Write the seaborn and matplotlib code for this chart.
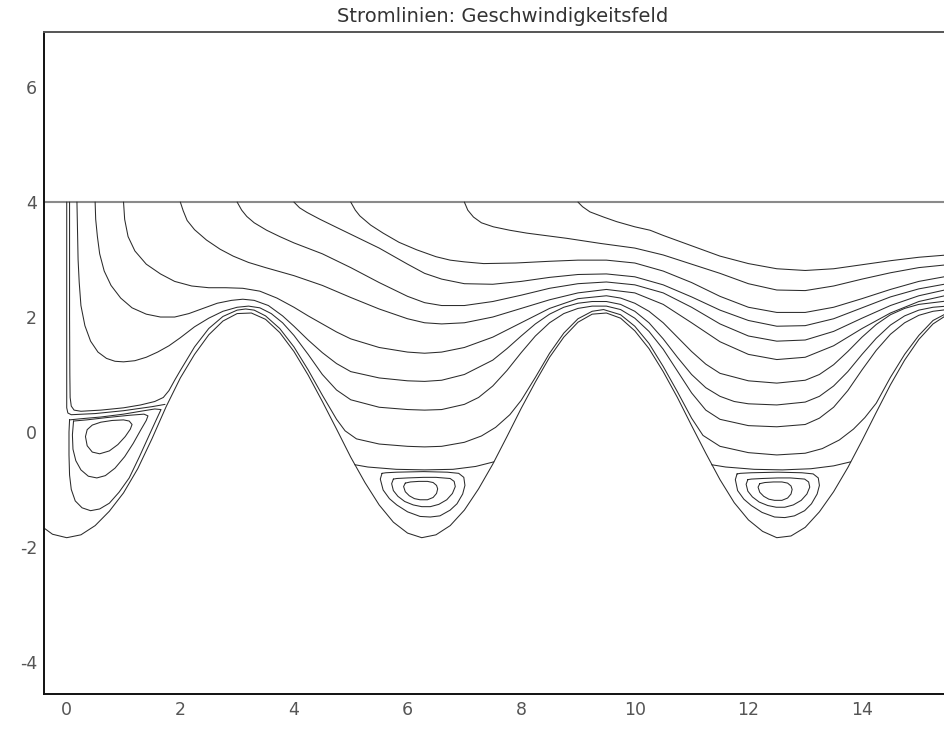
import numpy as np
import pandas as pd
import matplotlib
matplotlib.use("Agg")
import matplotlib.pyplot as plt
import seaborn as sns

# ---- channel geometry -------------------------------------------------
wall_top = 4.0
bottom_x = np.arange(-0.5, 15.76, 0.25)
bottom_y = [-1.60, -1.78, -1.84, -1.79, -1.63, -1.38, -1.06, -0.64, -0.12, 0.44,
            0.94, 1.35, 1.69, 1.93, 2.06, 2.07, 1.96, 1.73, 1.40, 0.99,
            0.53, 0.05, -0.44, -0.88, -1.27, -1.57, -1.76, -1.84, -1.79, -1.63,
            -1.36, -0.99, -0.56, -0.08, 0.41, 0.87, 1.30, 1.65, 1.91, 2.05,
            2.07, 1.98, 1.76, 1.45, 1.05, 0.60, 0.11, -0.37, -0.83, -1.23,
            -1.53, -1.73, -1.84, -1.81, -1.66, -1.39, -1.04, -0.62, -0.15, 0.34,
            0.82, 1.25, 1.61, 1.88, 2.04, 2.08]

# ---- streamlines (x, y) -----------------------------------------------
psi_zero = [(0.0, 4.0), (0.0, 0.42), (0.02, 0.33), (0.08, 0.30), (0.5, 0.32),
            (1.0, 0.37), (1.5, 0.44), (1.73, 0.48)]

line_01 = [(0.05, 4.0), (0.05, 2.0), (0.055, 1.0), (0.06, 0.6), (0.08, 0.45), (0.13, 0.38),
           (0.25, 0.36), (0.6, 0.38), (1.0, 0.42), (1.3, 0.47), (1.55, 0.53), (1.7, 0.6),
           (1.8, 0.72), (1.9, 0.9), (2.0, 1.07), (2.25, 1.48), (2.5, 1.8), (2.75, 2.01),
           (3.0, 2.12), (3.15, 2.14), (3.3, 2.12), (3.5, 2.02), (3.75, 1.8), (4.0, 1.48),
           (4.25, 1.08), (4.5, 0.64), (4.75, 0.22), (4.9, 0.02), (5.1, -0.12), (5.5, -0.21),
           (6.0, -0.25), (6.3, -0.26), (6.6, -0.25), (7.0, -0.18), (7.3, -0.07), (7.55, 0.08),
           (7.8, 0.3), (8.0, 0.55), (8.25, 0.95), (8.5, 1.37), (8.75, 1.72), (9.0, 1.97),
           (9.25, 2.1), (9.45, 2.13), (9.75, 2.04), (10.0, 1.84), (10.25, 1.54), (10.5, 1.14),
           (10.75, 0.7), (11.0, 0.24), (11.2, -0.06), (11.5, -0.25), (12.0, -0.36), (12.5, -0.40),
           (13.0, -0.37), (13.3, -0.29), (13.6, -0.14), (13.85, 0.05), (14.05, 0.25), (14.25, 0.5),
           (14.5, 0.95), (14.75, 1.35), (15.0, 1.68), (15.25, 1.94), (15.5, 2.07), (15.75, 2.11)]

line_02 = [(0.18, 4.0), (0.19, 3.5), (0.2, 3.0), (0.22, 2.6), (0.25, 2.2), (0.32, 1.85),
           (0.42, 1.58), (0.55, 1.39), (0.7, 1.28), (0.85, 1.23), (1.0, 1.22), (1.2, 1.24),
           (1.4, 1.3), (1.6, 1.39), (1.8, 1.5), (2.0, 1.64), (2.25, 1.83), (2.5, 1.98),
           (2.75, 2.1), (3.0, 2.17), (3.2, 2.19), (3.4, 2.16), (3.6, 2.06), (3.8, 1.9),
           (4.0, 1.68), (4.25, 1.35), (4.5, 1.0), (4.75, 0.73), (5.0, 0.56), (5.5, 0.43),
           (6.0, 0.39), (6.3, 0.38), (6.6, 0.39), (7.0, 0.48), (7.25, 0.6), (7.5, 0.8),
           (7.75, 1.07), (8.0, 1.38), (8.25, 1.67), (8.5, 1.9), (8.75, 2.06), (9.0, 2.15),
           (9.25, 2.19), (9.5, 2.19), (9.75, 2.13), (10.0, 1.98), (10.25, 1.75), (10.5, 1.44),
           (10.75, 1.06), (11.0, 0.68), (11.25, 0.38), (11.5, 0.22), (12.0, 0.11), (12.5, 0.09),
           (13.0, 0.13), (13.25, 0.24), (13.5, 0.43), (13.75, 0.72), (14.0, 1.08), (14.25, 1.42),
           (14.5, 1.7), (14.75, 1.9), (15.0, 2.03), (15.25, 2.1), (15.5, 2.13), (15.75, 2.14)]

line_03 = [(0.5, 4.0), (0.51, 3.7), (0.54, 3.4), (0.58, 3.1), (0.66, 2.8), (0.78, 2.55),
           (0.95, 2.33), (1.15, 2.16), (1.4, 2.05), (1.65, 2.0), (1.9, 2.0), (2.15, 2.06),
           (2.4, 2.15), (2.65, 2.24), (2.9, 2.29), (3.1, 2.31), (3.3, 2.29), (3.55, 2.2),
           (3.8, 2.02), (4.0, 1.84), (4.25, 1.6), (4.5, 1.38), (4.75, 1.19), (5.0, 1.05),
           (5.5, 0.94), (6.0, 0.89), (6.3, 0.88), (6.6, 0.9), (7.0, 1.0), (7.5, 1.25),
           (7.75, 1.45), (8.0, 1.67), (8.25, 1.88), (8.5, 2.05), (8.75, 2.17), (9.0, 2.24),
           (9.25, 2.27), (9.5, 2.27), (9.75, 2.22), (10.0, 2.1), (10.25, 1.9), (10.5, 1.62),
           (10.75, 1.3), (11.0, 1.0), (11.25, 0.77), (11.5, 0.62), (11.75, 0.53), (12.0, 0.49),
           (12.5, 0.47), (13.0, 0.52), (13.25, 0.62), (13.5, 0.8), (13.75, 1.05), (14.0, 1.35),
           (14.25, 1.63), (14.5, 1.86), (14.75, 2.02), (15.0, 2.12), (15.25, 2.17), (15.5, 2.19),
           (15.75, 2.2)]

line_04 = [(1.0, 4.0), (1.02, 3.7), (1.08, 3.4), (1.2, 3.15), (1.4, 2.92), (1.65, 2.75),
           (1.9, 2.62), (2.2, 2.54), (2.5, 2.51), (2.8, 2.51), (3.1, 2.5), (3.4, 2.45),
           (3.7, 2.33), (4.0, 2.17), (4.25, 2.02), (4.5, 1.88), (4.75, 1.74), (5.0, 1.62),
           (5.5, 1.47), (6.0, 1.39), (6.3, 1.37), (6.6, 1.39), (7.0, 1.47), (7.5, 1.65),
           (8.0, 1.9), (8.5, 2.15), (9.0, 2.32), (9.5, 2.37), (9.75, 2.33), (10.0, 2.24),
           (10.25, 2.1), (10.5, 1.9), (10.75, 1.65), (11.0, 1.4), (11.25, 1.18), (11.5, 1.02),
           (12.0, 0.89), (12.5, 0.85), (13.0, 0.9), (13.25, 1.0), (13.5, 1.17), (13.75, 1.4),
           (14.0, 1.65), (14.25, 1.87), (14.5, 2.04), (14.75, 2.15), (15.0, 2.22), (15.5, 2.28),
           (15.75, 2.29)]

line_05 = [(2.0, 4.0), (2.05, 3.85), (2.12, 3.68), (2.25, 3.52), (2.46, 3.34), (2.7, 3.18),
           (2.93, 3.06), (3.2, 2.95), (3.5, 2.86), (4.0, 2.72), (4.5, 2.55), (5.0, 2.34),
           (5.5, 2.14), (6.0, 1.97), (6.3, 1.9), (6.6, 1.88), (7.0, 1.9), (7.5, 2.0),
           (8.0, 2.15), (8.5, 2.3), (9.0, 2.42), (9.5, 2.48), (10.0, 2.42), (10.5, 2.22),
           (11.0, 1.9), (11.5, 1.57), (12.0, 1.35), (12.5, 1.26), (13.0, 1.3), (13.5, 1.5),
           (14.0, 1.8), (14.5, 2.07), (15.0, 2.27), (15.5, 2.38), (15.75, 2.4)]

line_06 = [(3.0, 4.0), (3.08, 3.86), (3.17, 3.75), (3.3, 3.64), (3.52, 3.51), (3.75, 3.4),
           (4.0, 3.29), (4.5, 3.1), (5.0, 2.86), (5.5, 2.6), (6.0, 2.36), (6.3, 2.25),
           (6.6, 2.2), (7.0, 2.2), (7.5, 2.27), (8.0, 2.38), (8.5, 2.5), (9.0, 2.58),
           (9.5, 2.61), (10.0, 2.56), (10.5, 2.42), (11.0, 2.17), (11.5, 1.88), (12.0, 1.67),
           (12.5, 1.58), (13.0, 1.6), (13.5, 1.75), (14.0, 1.98), (14.5, 2.2), (15.0, 2.37),
           (15.5, 2.48), (15.75, 2.5)]

line_07 = [(4.0, 4.0), (4.1, 3.9), (4.23, 3.82), (4.46, 3.7), (4.75, 3.56), (5.0, 3.44),
           (5.5, 3.2), (6.0, 2.92), (6.3, 2.76), (6.6, 2.66), (7.0, 2.58), (7.5, 2.57),
           (8.0, 2.62), (8.5, 2.69), (9.0, 2.74), (9.5, 2.75), (10.0, 2.7), (10.5, 2.56),
           (11.0, 2.35), (11.5, 2.12), (12.0, 1.94), (12.5, 1.84), (13.0, 1.85), (13.5, 1.97),
           (14.0, 2.16), (14.5, 2.35), (15.0, 2.49), (15.5, 2.58), (15.75, 2.6)]

line_08 = [(5.0, 4.0), (5.08, 3.86), (5.16, 3.76), (5.35, 3.6), (5.57, 3.46), (5.85, 3.3),
           (6.16, 3.17), (6.5, 3.05), (6.75, 2.99), (7.0, 2.96), (7.34, 2.93), (7.9, 2.94),
           (8.5, 2.97), (9.0, 2.99), (9.5, 2.99), (10.0, 2.94), (10.5, 2.8), (11.0, 2.6),
           (11.5, 2.36), (12.0, 2.17), (12.5, 2.08), (13.0, 2.08), (13.5, 2.17), (14.0, 2.32),
           (14.5, 2.48), (15.0, 2.62), (15.5, 2.71), (15.75, 2.73)]

line_09 = [(7.0, 4.0), (7.06, 3.86), (7.16, 3.74), (7.3, 3.64), (7.51, 3.57), (7.8, 3.51),
           (8.1, 3.46), (8.8, 3.37), (9.4, 3.28), (10.0, 3.2), (10.5, 3.08), (11.0, 2.92),
           (11.5, 2.76), (12.0, 2.58), (12.5, 2.47), (13.0, 2.46), (13.5, 2.54), (14.0, 2.66),
           (14.5, 2.77), (15.0, 2.86), (15.5, 2.91), (15.75, 2.92)]

line_10 = [(9.0, 4.0), (9.08, 3.92), (9.21, 3.83), (9.45, 3.74), (9.68, 3.66), (10.0, 3.57),
           (10.27, 3.51), (10.5, 3.42), (11.0, 3.24), (11.5, 3.06), (12.0, 2.93), (12.5, 2.84),
           (13.0, 2.81), (13.5, 2.84), (14.0, 2.91), (14.5, 2.98), (15.0, 3.04), (15.5, 3.08),
           (15.75, 3.09)]

# dividing streamlines over the two downstream troughs
divide_2 = [(5.07, -0.57), (5.3, -0.61), (5.8, -0.65), (6.3, -0.66), (6.8, -0.65),
            (7.2, -0.60), (7.52, -0.52)]
divide_3 = [(11.35, -0.57), (11.6, -0.61), (12.1, -0.65), (12.6, -0.66), (13.1, -0.64),
            (13.5, -0.59), (13.8, -0.52)]

# recirculation cells
eddy1_outer = [(0.05, 0.21), (0.04, 0.0), (0.04, -0.4), (0.05, -0.75), (0.08, -1.0),
               (0.15, -1.2), (0.27, -1.32), (0.42, -1.37), (0.58, -1.34), (0.75, -1.24),
               (0.92, -1.05), (1.1, -0.8), (1.28, -0.43), (1.45, -0.06), (1.58, 0.22),
               (1.66, 0.39), (1.55, 0.4), (1.3, 0.36), (1.0, 0.31), (0.6, 0.26),
               (0.25, 0.23), (0.05, 0.21)]
eddy1_middle = [(0.12, 0.19), (0.1, -0.05), (0.11, -0.3), (0.16, -0.5), (0.25, -0.66),
                (0.38, -0.77), (0.53, -0.8), (0.68, -0.76), (0.85, -0.63), (1.02, -0.43),
                (1.17, -0.2), (1.3, 0.03), (1.4, 0.2), (1.43, 0.28), (1.36, 0.31),
                (1.1, 0.29), (0.7, 0.25), (0.35, 0.21), (0.12, 0.19)]
eddy1_inner = [(0.33, -0.08), (0.36, 0.04), (0.45, 0.12), (0.6, 0.17), (0.8, 0.2),
               (1.0, 0.21), (1.1, 0.19), (1.15, 0.13), (1.12, 0.05), (1.03, -0.08),
               (0.9, -0.22), (0.75, -0.33), (0.58, -0.38), (0.45, -0.35), (0.36, -0.24),
               (0.33, -0.08)]

eddy2_outer = [(5.55, -0.72), (5.52, -0.82), (5.57, -1.01), (5.68, -1.16), (5.81, -1.27),
               (6.0, -1.39), (6.22, -1.47), (6.4, -1.48), (6.57, -1.46), (6.75, -1.36),
               (6.87, -1.25), (6.97, -1.08), (7.01, -0.93), (6.99, -0.79), (6.9, -0.72),
               (6.7, -0.70), (6.28, -0.69), (5.81, -0.70), (5.62, -0.71), (5.55, -0.72)]
eddy2_middle = [(5.75, -0.82), (5.72, -0.9), (5.75, -1.02), (5.83, -1.12), (5.95, -1.21),
                (6.1, -1.27), (6.25, -1.3), (6.4, -1.3), (6.55, -1.26), (6.69, -1.18),
                (6.79, -1.07), (6.84, -0.95), (6.82, -0.86), (6.75, -0.81), (6.5, -0.79),
                (6.28, -0.79), (6.0, -0.80), (5.81, -0.81), (5.75, -0.82)]
eddy2_inner = [(5.96, -0.89), (5.93, -0.95), (5.96, -1.04), (6.03, -1.11), (6.12, -1.16),
               (6.22, -1.18), (6.35, -1.18), (6.45, -1.14), (6.51, -1.07), (6.53, -0.99),
               (6.51, -0.93), (6.45, -0.88), (6.35, -0.86), (6.2, -0.86), (6.05, -0.87),
               (5.96, -0.89)]

eddy3_outer = [(11.8, -0.73), (11.77, -0.83), (11.81, -1.02), (11.92, -1.17), (12.05, -1.28),
               (12.24, -1.4), (12.46, -1.48), (12.64, -1.49), (12.81, -1.46), (12.99, -1.37),
               (13.11, -1.25), (13.21, -1.08), (13.25, -0.93), (13.23, -0.8), (13.14, -0.73),
               (12.94, -0.71), (12.52, -0.70), (12.05, -0.71), (11.86, -0.72), (11.8, -0.73)]
eddy3_middle = [(11.99, -0.83), (11.96, -0.91), (11.99, -1.03), (12.07, -1.13), (12.19, -1.22),
                (12.34, -1.28), (12.49, -1.31), (12.64, -1.31), (12.79, -1.27), (12.93, -1.19),
                (13.03, -1.08), (13.08, -0.96), (13.06, -0.87), (12.99, -0.82), (12.74, -0.80),
                (12.52, -0.80), (12.24, -0.81), (12.05, -0.82), (11.99, -0.83)]
eddy3_inner = [(12.2, -0.9), (12.17, -0.96), (12.2, -1.05), (12.27, -1.12), (12.36, -1.17),
               (12.46, -1.19), (12.59, -1.19), (12.69, -1.15), (12.75, -1.08), (12.77, -1.0),
               (12.75, -0.94), (12.69, -0.89), (12.59, -0.87), (12.44, -0.87), (12.29, -0.88),
               (12.2, -0.9)]

x_ticks = [0, 2, 4, 6, 8, 10, 12, 14]
y_ticks = [-4, -2, 0, 2, 4, 6]
title = "Stromlinien: Geschwindigkeitsfeld"

# ---- assemble a long table: one unit per curve --------------------------
curves = {
    "bottom": list(zip(bottom_x, bottom_y)),
    "psi0": psi_zero,
    "l01": line_01, "l02": line_02, "l03": line_03, "l04": line_04, "l05": line_05,
    "l06": line_06, "l07": line_07, "l08": line_08, "l09": line_09, "l10": line_10,
    "d2": divide_2, "d3": divide_3,
    "e1o": eddy1_outer, "e1m": eddy1_middle, "e1i": eddy1_inner,
    "e2o": eddy2_outer, "e2m": eddy2_middle, "e2i": eddy2_inner,
    "e3o": eddy3_outer, "e3m": eddy3_middle, "e3i": eddy3_inner,
}
rows = []
for name, pts in curves.items():
    for order, (x, y) in enumerate(pts):
        rows.append({"curve": name, "order": order, "x": x, "y": y})
df = pd.DataFrame(rows)

# ---- figure ----------------------------------------------------------------
sns.set_theme(style="white")
plt.rcParams["font.family"] = ["DejaVu Sans"]

W, H = 945, 729
fig = plt.figure(figsize=(W / 100, H / 100), dpi=100)
left_px, right_px, top_px, bot_px = 44, 962, 32, 694
ax = fig.add_axes([left_px / W, 1 - bot_px / H, (right_px - left_px) / W, (bot_px - top_px) / H])

ax.axhline(wall_top, color="#8a8a8a", lw=1.5, zorder=1)
sns.lineplot(data=df, x="x", y="y", units="curve", estimator=None, sort=False,
             color="#2b2b2b", linewidth=0.75, legend=False, ax=ax)

ax.set_xlim(-0.40, 15.76)
ax.set_ylim(-4.56, 6.96)
ax.set_xticks(x_ticks)
ax.set_yticks(y_ticks)
ax.set_xticklabels([str(v) for v in x_ticks])
ax.set_yticklabels([str(v) for v in y_ticks])
ax.set_xlabel("")
ax.set_ylabel("")
ax.tick_params(axis="both", length=0, labelsize=12.5, colors="#555555")
ax.tick_params(axis="x", pad=5)
ax.tick_params(axis="y", pad=5)

for side in ("left", "bottom"):
    ax.spines[side].set_color("#111111")
    ax.spines[side].set_linewidth(1.4)
ax.spines["top"].set_color("#555555")
ax.spines["top"].set_linewidth(1.4)
ax.spines["right"].set_visible(False)

ax.set_title(title, fontsize=14, color="#333333", pad=7)

fig.savefig("out.png", dpi=100)
